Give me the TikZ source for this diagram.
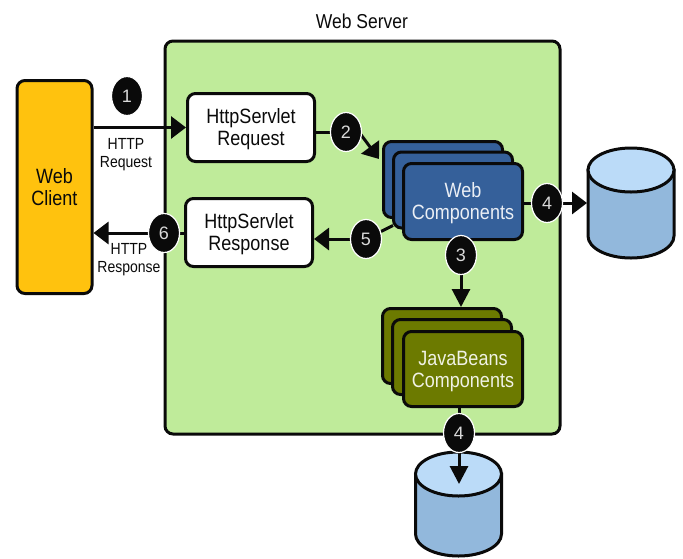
\documentclass[tikz,border=0pt]{standalone}
\usepackage{fontspec}
\setmainfont{Liberation Sans}
\usetikzlibrary{arrows.meta,shapes.geometric,calc}
\definecolor{srvgreen}{HTML}{BFEB9A}
\definecolor{clientyellow}{HTML}{FFC20E}
\definecolor{webblue}{HTML}{35609A}
\definecolor{beanolive}{HTML}{6C7A00}
\definecolor{dbtop}{HTML}{BBDBF8}
\definecolor{dbside}{HTML}{92B8DC}
\definecolor{inkblack}{HTML}{0A0A0A}
\newcommand{\stretchlbl}[1]{\raisebox{-2.8pt}[\height][\depth]{\scalebox{1}[1.15]{\begin{tabular}{@{}c@{}}#1\end{tabular}}}}
\pgfdeclarelayer{bglayer}
\pgfdeclarelayer{connlayer}
\pgfsetlayers{bglayer,connlayer,main}
\tikzset{
  basebox/.style={draw=inkblack,line width=3pt,rounded corners=8pt,inner sep=0pt,align=center,text=inkblack},
  bigtxt/.style={font=\fontsize{18}{19}\selectfont},
  smalltxt/.style={font=\fontsize{14}{16}\selectfont,text=inkblack,inner sep=0pt},
  whitebox/.style={basebox,bigtxt,fill=white,minimum width=127pt,minimum height=68pt},
  webbox/.style={basebox,bigtxt,fill=webblue,minimum width=119pt,minimum height=76pt,text=white!90!webblue},
  beanbox/.style={basebox,bigtxt,fill=beanolive,minimum width=119pt,minimum height=75pt,text=white!90!beanolive},
  numdot/.style={ellipse,draw=white,line width=1.2pt,fill=inkblack,text=white!85!black,inner sep=0pt,
    minimum width=31pt,minimum height=39pt,font=\fontsize{18}{19}\selectfont},
  link/.style={draw=inkblack,line width=3pt},
  arrowh/.style={link,-{Triangle[length=15pt,width=22pt]}},
  arrowv/.style={link,-{Triangle[length=18pt,width=18pt]}},
  dbend/.style={draw=inkblack,line width=3pt},
  ghost/.style={inner sep=0pt,outer sep=0pt}
}
\newcommand{\dbdraw}[4]{% cx, top cy, bottom cy, rx
  \path[dbend,fill=dbside] (#1-#4,#2) -- (#1-#4,#3)
     .. controls (#1-#4,#3+12.2) and (#1-.552*#4,#3+22) .. (#1,#3+22)
     .. controls (#1+.552*#4,#3+22) and (#1+#4,#3+12.2) .. (#1+#4,#3)
     -- (#1+#4,#2) -- cycle;
  \path[dbend,fill=dbtop] (#1-#4,#2)
     .. controls (#1-#4,#2+12.2) and (#1-.552*#4,#2+22) .. (#1,#2+22)
     .. controls (#1+.552*#4,#2+22) and (#1+#4,#2+12.2) .. (#1+#4,#2)
     .. controls (#1+#4,#2-12.2) and (#1+.552*#4,#2-22) .. (#1,#2-22)
     .. controls (#1-.552*#4,#2-22) and (#1-#4,#2-12.2) .. (#1-#4,#2) -- cycle;
}
\begin{document}
\begin{tikzpicture}[x=1pt,y=-1pt]
\useasboundingbox (0,0) rectangle (683,558);
\begin{pgfonlayer}{bglayer}
  \node[basebox,fill=srvgreen,minimum width=395pt,minimum height=393pt] (server) at (362.5,237.5) {};
  \dbdraw{631}{170}{236}{43}
  \dbdraw{458.5}{474}{534}{43}
\end{pgfonlayer}
\node[font=\fontsize{17.5}{19}\selectfont,text=inkblack,inner sep=0pt] (servertitle) at (362,21.5) {\stretchlbl{Web Server}};
\node[ghost,minimum width=88pt,minimum height=110pt] (dbright) at (631,203) {};
\coordinate (dbbottomin) at (459,484);
\node[basebox,bigtxt,fill=clientyellow,minimum width=75pt,minimum height=213pt] (client) at (54.5,187) {\stretchlbl{Web\\Client}};
\node[whitebox] (req) at (251,127.5) {\stretchlbl{HttpServlet\\Request}};
\node[whitebox] (resp) at (249,232.5) {\stretchlbl{HttpServlet\\Response}};
\node[webbox] (weba) at (443,179.5) {};
\node[webbox] (webb) at (453,190) {};
\node[webbox] (webc) at (463,201.5) {\stretchlbl{Web\\Components}};
\node[beanbox] (beana) at (442,346) {};
\node[beanbox] (beanb) at (452,357) {};
\node[beanbox] (beanc) at (463,369) {\stretchlbl{JavaBeans\\Components}};
\node[smalltxt] (lblreq) at (126,152) {\stretchlbl{HTTP\\Request}};
\node[smalltxt] (lblresp) at (129,257) {\stretchlbl{HTTP\\Response}};
\node[numdot] (n1) at (127,96) {1};
\node[numdot] (n2) at (346,132) {2};
\node[numdot] (n3) at (461,255) {3};
\node[numdot] (n4a) at (547,203) {4};
\node[numdot] (n5) at (366,239) {5};
\node[numdot] (n6) at (164,233) {6};
\node[numdot] (n4b) at (459,433) {4};
\coordinate (webin) at (379,159);
\coordinate (n2out) at (356,128);
\begin{pgfonlayer}{connlayer}
  \draw[arrowh] (client.east |- req.west) -- (req.west);
  \draw[link] (req.east |- n2) -- (n2);
  \draw[arrowh] (n2out) -- (webin);
  \draw[link] (webc.east |- n4a) -- (n4a);
  \draw[arrowh] (n4a) -- (dbright.west |- n4a);
  \draw[link] (n3 |- webc.south) -- (n3);
  \draw[arrowv] (n3) -- (n3 |- beana.north);
  \draw[link] (webb.south west) ++(1,-4) -- (n5);
  \draw[arrowh] (n5) -- (n5 -| resp.east);
  \draw[link] (resp.west |- n6) -- (n6);
  \draw[arrowh] (n6) -- (n6 -| client.east);
  \draw[link] (n4b |- beanc.south) -- (n4b);
  \draw[arrowv] (n4b) -- (dbbottomin);
\end{pgfonlayer}
\end{tikzpicture}
\end{document}
